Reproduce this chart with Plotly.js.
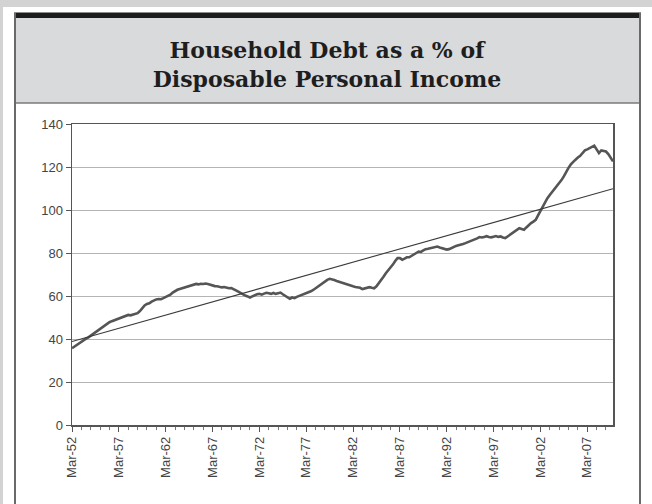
<!DOCTYPE html>
<html>
<head>
<meta charset="utf-8">
<script src="https://cdn.plot.ly/plotly-3.0.1.min.js"></script>
<style>
  html, body { margin: 0; padding: 0; background: #ffffff; overflow: hidden; }
  #chart { width: 652px; height: 504px; }
</style>
</head>
<body>
<div id="chart"></div>
<script>
// ---- Data (quarterly, Q1 1952 .. Q4 2009) ----
const startYear = 1952;
const monthNames = ["Mar", "Jun", "Sep", "Dec"];

const debtPct = [
  35.7, 36.5, 37.3, 38.0,   // 1952
  38.8, 39.5, 40.2, 40.8,   // 1953
  41.6, 42.5, 43.4, 44.2,   // 1954
  45.0, 45.8, 46.5, 47.2,   // 1955
  47.8, 48.3, 48.7, 49.2,   // 1956
  49.5, 49.9, 50.3, 50.8,   // 1957
  51.2, 51.0, 51.4, 51.8,   // 1958
  52.0, 53.0, 54.4, 55.6,   // 1959
  56.3, 56.6, 57.4, 58.0,   // 1960
  58.4, 58.6, 58.5, 59.0,   // 1961
  59.5, 59.8, 60.6, 61.6,   // 1962
  62.4, 62.9, 63.3, 63.6,   // 1963
  64.0, 64.4, 64.6, 65.0,   // 1964
  65.3, 65.6, 65.4, 65.7,   // 1965
  65.6, 65.8, 65.6, 65.2,   // 1966
  64.9, 64.6, 64.5, 64.3,   // 1967
  64.0, 64.2, 63.8, 63.6,   // 1968
  63.7, 63.3, 62.6, 62.0,   // 1969
  61.3, 60.8, 60.2, 59.8,   // 1970
  59.3, 59.8, 60.5, 60.8,   // 1971
  61.0, 60.6, 61.1, 61.5,   // 1972
  61.3, 61.0, 61.4, 61.0,   // 1973
  61.3, 61.6, 60.8, 60.0,   // 1974
  59.2, 58.7, 59.3, 59.0,   // 1975
  59.6, 60.0, 60.5, 60.9,   // 1976
  61.3, 61.8, 62.2, 62.8,   // 1977
  63.6, 64.6, 65.2, 65.9,   // 1978
  66.8, 67.5, 68.0, 67.8,   // 1979
  67.4, 67.0, 66.6, 66.3,   // 1980
  65.8, 65.5, 65.0, 64.7,   // 1981
  64.5, 64.2, 64.0, 63.8,   // 1982
  63.2, 63.5, 64.0, 64.1,   // 1983
  63.8, 63.6, 64.5, 66.2,   // 1984
  67.6, 69.0, 70.6, 71.8,   // 1985
  72.9, 74.6, 76.3, 77.6,   // 1986
  77.6, 76.9, 77.4, 78.0,   // 1987
  78.0, 78.8, 79.6, 80.0,   // 1988
  80.7, 80.5, 81.2, 81.8,   // 1989
  82.0, 82.2, 82.5, 82.9,   // 1990
  83.0, 82.6, 82.3, 81.9,   // 1991
  81.6, 81.8, 82.4, 82.8,   // 1992
  83.3, 83.6, 83.8, 84.2,   // 1993
  84.6, 85.0, 85.3, 85.8,   // 1994
  86.3, 86.8, 87.4, 87.2,   // 1995
  87.5, 87.8, 87.4, 87.3,   // 1996
  87.6, 87.9, 87.5, 87.7,   // 1997
  87.2, 86.9, 87.7, 88.5,   // 1998
  89.3, 90.0, 90.8, 91.5,   // 1999
  91.2, 90.8, 91.9, 93.1,   // 2000
  93.9, 94.6, 95.4, 97.5,   // 2001
  99.6, 101.8, 104.0, 105.5, // 2002
  107.0, 108.4, 109.7, 111.0, // 2003
  112.2, 113.9, 115.6, 117.8, // 2004
  119.6, 121.2, 122.5, 123.4, // 2005
  124.4, 125.2, 126.5, 127.7, // 2006
  128.2, 128.8, 129.4, 129.9, // 2007
  128.2, 126.5, 127.7, 127.4, // 2008
  127.2, 126.0, 124.2, 122.6  // 2009
];

// Linear trend line: values at the first and last quarter
const trendLabels = ["Mar-52", "Dec-09"];
const trendValues = [38.8, 109.9];

// Labelled x ticks
const tickLabels = ["Mar-52", "Mar-57", "Mar-62", "Mar-67", "Mar-72", "Mar-77",
                    "Mar-82", "Mar-87", "Mar-92", "Mar-97", "Mar-02", "Mar-07"];
const yTicks = [0, 20, 40, 60, 80, 100, 120, 140];

const titleText = "Household Debt as a % of<br>Disposable Personal Income";

// ---- Build quarter labels and positions ----
const quarterLabels = debtPct.map((_, i) => {
  const yr = startYear + Math.floor(i / 4);
  return monthNames[i % 4] + "-" + String(yr % 100).padStart(2, "0");
});
const xIdx = quarterLabels.map((_, i) => i);
const tickPos = tickLabels.map(l => quarterLabels.indexOf(l));
const trendX = trendLabels.map(l => quarterLabels.indexOf(l));

// ---- Frame geometry (pixels -> paper) ----
const W = 652, H = 504;
const M = { l: 72, r: 39, t: 124, b: 79 };
const PW = W - M.l - M.r, PH = H - M.t - M.b;
const px = x => (x - M.l) / PW;
const py = y => (H - M.b - y) / PH;
function rect(x0, y0, x1, y1, fill, line) {
  return { type: "rect", xref: "paper", yref: "paper", layer: "below",
    x0: px(x0), x1: px(x1), y0: py(y1), y1: py(y0),
    fillcolor: fill, line: line || { width: 0 } };
}
function seg(x0, y0, x1, y1, color, width) {
  return { type: "line", xref: "paper", yref: "paper", layer: "below",
    x0: px(x0), x1: px(x1), y0: py(y0), y1: py(y1),
    line: { color: color, width: width } };
}

const shapes = [
  rect(0, 0, 652, 7, "#d3d3d3"),
  rect(0, 0, 3, 504, "#d3d3d3"),
  rect(15, 17, 640, 103, "#d9dadc"),
  rect(14, 12.5, 641, 18, "#1c1c1c"),
  seg(15, 103, 640, 103, "#7a7a7a", 1.5),
  seg(15, 13, 15, 504, "#6a6a6a", 2),
  seg(640, 13, 640, 504, "#6a6a6a", 2)
];

const traces = [
  {
    x: xIdx, y: debtPct, type: "scatter", mode: "lines",
    line: { color: "#555555", width: 2.6 }, hoverinfo: "skip"
  },
  {
    x: trendX, y: trendValues, type: "scatter", mode: "lines",
    line: { color: "#3a3a3a", width: 1.1 }, hoverinfo: "skip"
  }
];

const layout = {
  width: W, height: H,
  margin: M,
  paper_bgcolor: "#ffffff",
  plot_bgcolor: "#ffffff",
  showlegend: false,
  title: {
    text: titleText,
    font: { family: "DejaVu Serif", size: 22, color: "#1e1e1e", weight: "bold" },
    x: 327 / W, xref: "container", xanchor: "center",
    y: 1 - 58 / H, yref: "container", yanchor: "middle"
  },
  xaxis: {
    range: [0, debtPct.length - 1],
    tickmode: "array", tickvals: tickPos, ticktext: tickLabels,
    tickangle: -90,
    ticks: "outside", ticklen: 5, tickcolor: "#555555", tickwidth: 1,
    minor: { tickmode: "linear", tick0: 0, dtick: 4, ticks: "outside", ticklen: 3, tickcolor: "#777777" },
    showgrid: false, zeroline: false,
    showline: true, mirror: true, linecolor: "#555555", linewidth: 1.5,
    tickfont: { family: "Liberation Sans, Arial, sans-serif", size: 13, color: "#444444" },
    fixedrange: true
  },
  yaxis: {
    range: [0, 140],
    tickmode: "array", tickvals: yTicks,
    ticks: "outside", ticklen: 5, tickcolor: "#555555",
    showgrid: true, gridcolor: "#b4b4b4", gridwidth: 1,
    zeroline: false,
    showline: true, mirror: true, linecolor: "#555555", linewidth: 1.5,
    tickfont: { family: "Liberation Sans, Arial, sans-serif", size: 13, color: "#444444" },
    fixedrange: true
  },
  shapes: shapes
};

Plotly.newPlot("chart", traces, layout, { displayModeBar: false, staticPlot: true });
</script>
</body>
</html>
